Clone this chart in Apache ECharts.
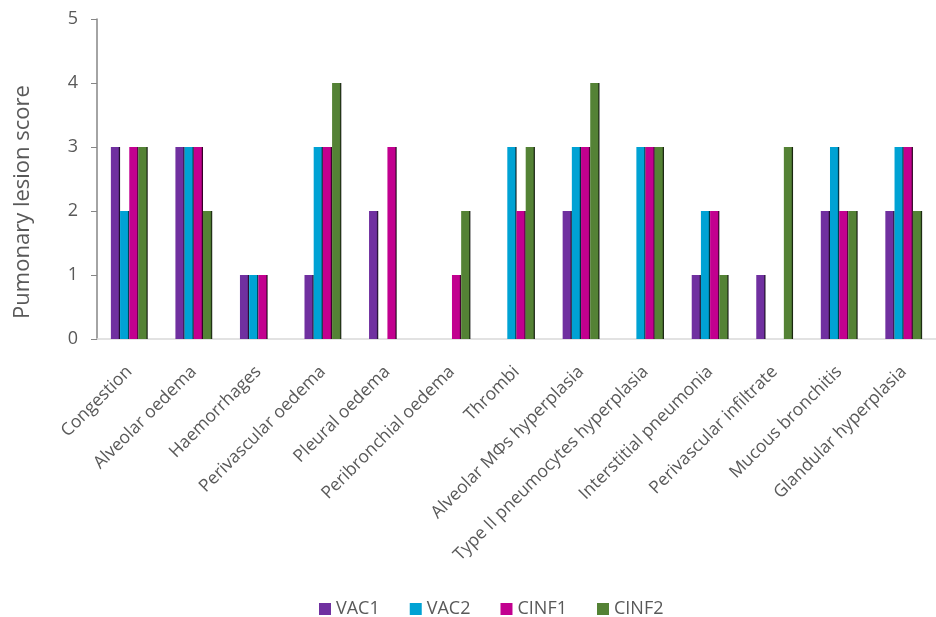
<!DOCTYPE html>
<html><head><meta charset="utf-8">
<script src="https://cdn.jsdelivr.net/npm/echarts@6/dist/echarts.min.js"></script>
<style>html,body{margin:0;padding:0;background:#fff}#c{width:936px;height:617px}</style>
</head><body><div id="c"></div>
<script>
const categories = ["Congestion","Alveolar oedema","Haemorrhages","Perivascular oedema","Pleural oedema","Peribronchial oedema","Thrombi","Alveolar M\u03A6s hyperplasia","Type II pneumocytes hyperplasia","Interstitial pneumonia","Perivascular infiltrate","Mucous bronchitis","Glandular hyperplasia"];
const VAC1  = [3,3,1,1,2,0,0,2,0,1,1,2,2];
const VAC2  = [2,3,1,3,0,0,3,3,3,2,0,3,3];
const CINF1 = [3,3,1,3,3,1,2,3,3,2,0,2,3];
const CINF2 = [3,2,0,4,0,2,3,4,3,1,3,2,2];
const seriesNames = ["VAC1","VAC2","CINF1","CINF2"];
const colors = ["#7030a0","#00a2d4","#c2008f","#548235"];
const yTicks = [0,1,2,3,4,5];
const yTitle = "Pumonary lesion score";

const font = "'Open Sans', sans-serif";
const chart = echarts.init(document.getElementById('c'));
const data = [VAC1,VAC2,CINF1,CINF2];
function shade(c){
  return new echarts.graphic.LinearGradient(0,0,1,0,[
    {offset:0, color:c},{offset:0.8, color:c},{offset:1, color:echarts.color.modifyHSL(c, null, null, -0.06)}
  ]);
}
chart.setOption({
  animation:false,
  color: colors,
  grid:{left:97, right:-13, top:19, bottom:278, containLabel:false},
  legend:{
    top:595, left:314, itemWidth:12, itemHeight:12, itemGap:30,
    icon:'rect',
    textStyle:{fontFamily:font, fontSize:18, color:'#595959'},
    data: seriesNames.map((n,i)=>({name:n, itemStyle:{color:colors[i]}}))
  },
  graphic:[{
    type:'text',
    x:23, y:202,
    rotation:Math.PI/2,
    style:{text:yTitle, font:"22px 'Open Sans', sans-serif", fill:'#595959', align:'center', verticalAlign:'middle'}
  }],
  xAxis:{
    type:'category', data:categories,
    axisLine:{lineStyle:{color:'#d9d9d9', width:1.5}},
    axisTick:{show:false},
    axisLabel:{rotate:45, interval:0, fontFamily:font, fontSize:17.5, color:'#595959', margin:30}
  },
  yAxis:{
    type:'value', min:yTicks[0], max:yTicks[yTicks.length-1], interval:1,
    axisLine:{show:true, lineStyle:{color:'#868686', width:1.5}},
    axisTick:{show:true, length:6, lineStyle:{color:'#868686'}},
    axisLabel:{fontFamily:font, fontSize:18, color:'#595959', margin:19},
    splitLine:{show:false}
  },
  series: seriesNames.map((n,i)=>({
    name:n, type:'bar', data:data[i],
    barGap:'0%', barCategoryGap:'43%',
    itemStyle:{color:shade(colors[i])}
  }))
});
</script></body></html>
